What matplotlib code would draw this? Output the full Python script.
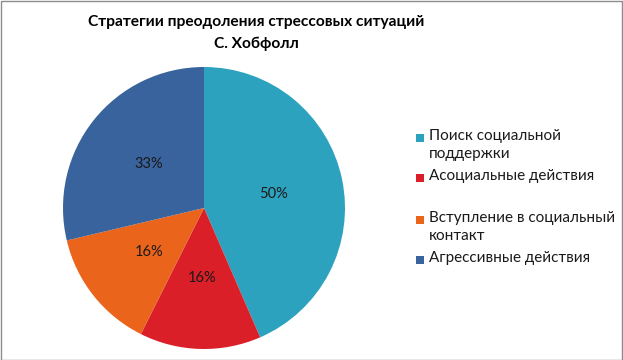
import matplotlib
matplotlib.use("Agg")
import matplotlib.pyplot as plt
from matplotlib.patches import Rectangle

# data (labels show the raw values)
categories = ["Поиск социальной\nподдержки", "Асоциальные действия",
              "Вступление в социальный\nконтакт", "Агрессивные действия"]
values = [50, 16, 16, 33]
colors = ["#2DA2BF", "#DA1F28", "#EB641B", "#39639D"]
title = "Стратегии преодоления стрессовых ситуаций\nС. Хобфолл"

plt.rcParams['font.family'] = ['Lato', 'DejaVu Sans']

W, H = 623, 360
fig = plt.figure(figsize=(W / 100, H / 100), dpi=100)

# pie centred at (204, 208) px, radius 141 px
cx, cy, r = 204, 208, 141
ax = fig.add_axes([(cx - r) / W, (H - cy - r) / H, 2 * r / W, 2 * r / H])
total = sum(values)
ax.pie(values, colors=colors, startangle=90, counterclock=False,
       autopct=lambda p: f"{round(p * total / 100)}%", pctdistance=0.5,
       wedgeprops=dict(edgecolor="none"),
       textprops=dict(fontsize=10.5, color="#1a1a1a"))
ax.set_xlim(-1, 1)
ax.set_ylim(-1, 1)
ax.set_aspect("equal")

fig.text(256 / W, 1 - 33 / H, title, ha="center", va="center",
         fontsize=11.2, fontweight="bold", linespacing=1.75)

# legend entries (first-line y positions in px)
leg_y = [138, 178, 220, 260]
for lab, col, y in zip(categories, colors, leg_y):
    fig.patches.append(Rectangle((416 / W, 1 - (y + 4) / H), 8 / W, 8 / H,
                                 transform=fig.transFigure, facecolor=col,
                                 edgecolor="none"))
    fig.text(429 / W, 1 - (y - 9) / H, lab, ha="left", va="top",
             fontsize=11, color="#1a1a1a", linespacing=1.35)

fig.patches.append(Rectangle((0.5 / W, 0.5 / H), 1 - 1.5 / W, 1 - 1.5 / H,
                             transform=fig.transFigure, facecolor="none",
                             edgecolor="#8c8c8c", linewidth=1))

fig.savefig("out.png", dpi=100)
